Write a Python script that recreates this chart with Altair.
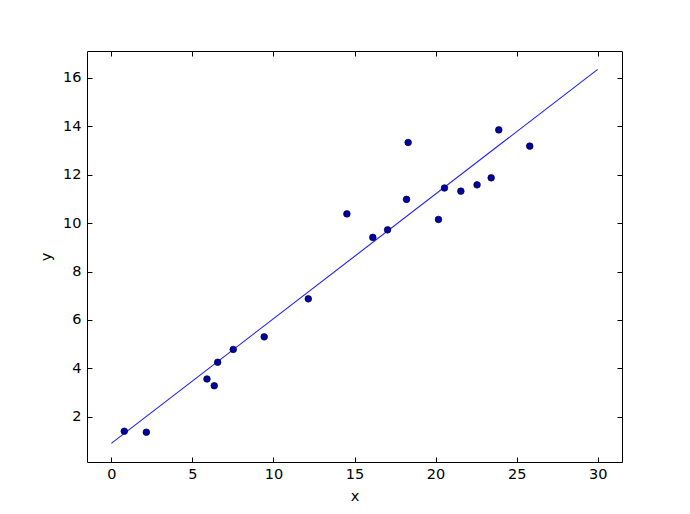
import altair as alt
import pandas as pd

# scatter data
xs = [0.80, 2.16, 5.90, 6.35, 6.56, 7.52, 9.43, 12.15, 14.53, 16.13,
      17.04, 18.21, 18.31, 20.18, 20.55, 21.56, 22.56, 23.43, 23.90, 25.81]
ys = [1.40, 1.36, 3.56, 3.28, 4.25, 4.78, 5.30, 6.87, 10.38, 9.41,
      9.72, 10.98, 13.33, 10.15, 11.45, 11.32, 11.58, 11.87, 13.85, 13.18]

# fitted line end points
line_x = [0, 30]
line_y = [0.90, 16.35]

x_ticks = [0, 5, 10, 15, 20, 25, 30]
y_ticks = [2, 4, 6, 8, 10, 12, 14, 16]

x_domain = [-1.5, 31.5]
y_domain = [0.13, 17.11]

pts = pd.DataFrame({"x": xs, "y": ys})
ln = pd.DataFrame({"x": line_x, "y": line_y})

FONT = "DejaVu Sans"
W, H = 535, 411

xscale = alt.Scale(domain=x_domain, nice=False, zero=False)
yscale = alt.Scale(domain=y_domain, nice=False, zero=False)

line = alt.Chart(ln).mark_line(color="#1f1fff", strokeWidth=1.1).encode(
    x=alt.X("x:Q", scale=xscale, title=None,
            axis=alt.Axis(orient="top", offset=-5, tickSize=5, labels=False,
                          domain=False, grid=False, values=x_ticks)),
    y=alt.Y("y:Q", scale=yscale, title=None,
            axis=alt.Axis(orient="right", offset=-5, tickSize=5, labels=False,
                          domain=False, grid=False, values=y_ticks)),
)

scatter = alt.Chart(pts).mark_point(
    shape="circle", filled=True, size=44, fill="#0000a8", stroke="#000022",
    strokeWidth=0.7, opacity=1
).encode(
    x=alt.X("x:Q", scale=xscale, title="x",
            axis=alt.Axis(orient="bottom", offset=-5, tickSize=5, labelPadding=5.5,
                          domain=False, grid=False, values=x_ticks,
                          titlePadding=8)),
    y=alt.Y("y:Q", scale=yscale, title="y",
            axis=alt.Axis(orient="left", offset=-5, tickSize=5, labelPadding=6,
                          domain=False, grid=False, values=y_ticks,
                          titlePadding=9)),
)

chart = alt.layer(line, scatter).resolve_axis(
    x="independent", y="independent"
).properties(
    width=W, height=H,
    background="white",
    autosize=alt.AutoSizeParams(type="none"),
    padding={"left": 79, "top": 43, "right": 40, "bottom": 40},
).configure_view(
    stroke="black", strokeWidth=1
).configure_axis(
    labelFont=FONT, labelFontSize=14.5, labelColor="black",
    titleFont=FONT, titleFontSize=14.5, titleFontWeight="normal", titleColor="black",
    tickColor="black", tickWidth=1,
)

chart.save("out.html", embed_options={"renderer": "svg", "actions": False})
